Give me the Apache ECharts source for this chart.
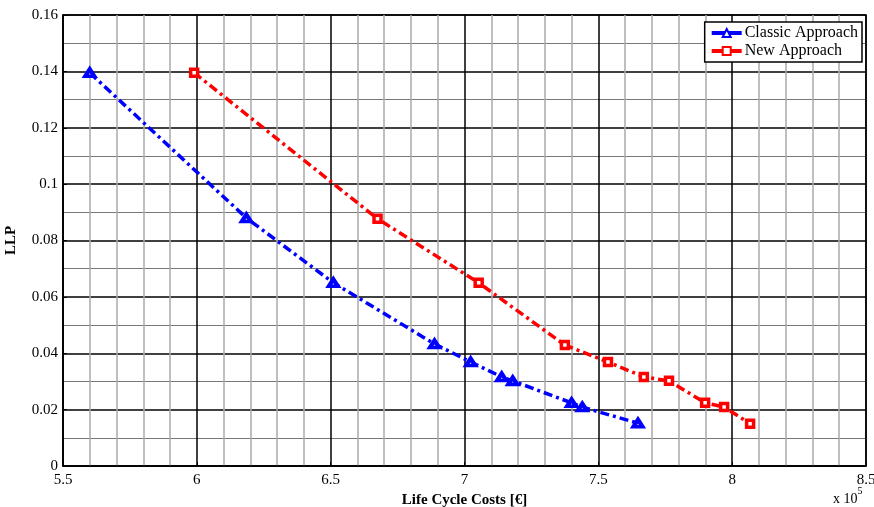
<!DOCTYPE html>
<html><head><meta charset="utf-8">
<script src="https://cdn.jsdelivr.net/npm/echarts@6/dist/echarts.min.js"></script>
<style>html,body{margin:0;padding:0;background:#fff}#c{width:874px;height:507px}</style>
</head><body><div id="c"></div>
<script>
const classicX = [5.60, 6.185, 6.51, 6.888, 7.023, 7.139, 7.18, 7.40, 7.44, 7.648];
const classicY = [0.1395, 0.088, 0.065, 0.0433, 0.0369, 0.0316, 0.0302, 0.0224, 0.0209, 0.0152];
const newX = [5.99, 6.675, 7.053, 7.375, 7.536, 7.67, 7.764, 7.899, 7.97, 8.067];
const newY = [0.1395, 0.0877, 0.065, 0.0429, 0.0369, 0.0316, 0.0302, 0.0224, 0.0209, 0.015];
const seriesNames = ['Classic Approach', 'New Approach'];
const FONT = '"Liberation Serif", "Times New Roman", serif';

const chart = echarts.init(document.getElementById('c'));
const pair = (xs, ys) => xs.map((x, i) => [x, ys[i]]);
chart.setOption({
  animation: false,
  grid: {left: 63, right: 8, top: 15, bottom: 41, show: true, borderColor: '#000', borderWidth: 1.5, backgroundColor: '#fff', outerBoundsMode: 'none', containLabel: false},
  legend: {
    right: 12, top: 22, orient: 'vertical', itemGap: 2,
    backgroundColor: '#fff', borderColor: '#000', borderWidth: 1.5, borderRadius: 0,
    padding: [3, 4, 3, 5], itemWidth: 30, itemHeight: 10,
    lineStyle: {type: 'solid', width: 4},
    textStyle: {fontFamily: FONT, fontSize: 16, color: '#000', padding: [0, 0, 0, -2]},
    data: seriesNames
  },
  xAxis: {
    type: 'value', min: 5.5, max: 8.5, interval: 0.5,
    name: 'Life Cycle Costs [€]', nameLocation: 'middle', nameGap: 27,
    nameTextStyle: {fontFamily: FONT, fontSize: 15, fontWeight: 'bold', color: '#000'},
    axisLine: {show: true, lineStyle: {color: '#000', width: 1.5}},
    axisTick: {show: true, inside: true, length: 4, lineStyle: {color: '#000'}},
    axisLabel: {fontFamily: FONT, fontSize: 15, color: '#000', margin: 7},
    splitLine: {show: true, lineStyle: {color: '#000', width: 1.5}},
    minorTick: {show: false, splitNumber: 5},
    minorSplitLine: {show: true, lineStyle: {color: '#aaa', width: 1.5}}
  },
  yAxis: {
    type: 'value', min: 0, max: 0.16, interval: 0.02,
    name: 'LLP', nameLocation: 'middle', nameGap: 44,
    nameTextStyle: {fontFamily: FONT, fontSize: 15, fontWeight: 'bold', color: '#000'},
    axisLine: {show: true, lineStyle: {color: '#000', width: 1.5}},
    axisTick: {show: true, inside: true, length: 4, lineStyle: {color: '#000'}},
    axisLabel: {fontFamily: FONT, fontSize: 15, color: '#000', margin: 5},
    splitLine: {show: true, lineStyle: {color: '#000', width: 1.5}},
    minorTick: {show: false, splitNumber: 2},
    minorSplitLine: {show: true, lineStyle: {color: '#777', width: 1}}
  },
  graphic: [{
    type: 'text', left: 833, top: 486,
    style: {
      text: '{a|x 10}{b|5}', fill: '#000',
      rich: {a: {fontFamily: FONT, fontSize: 14, padding: [6, 0, 0, 0]}, b: {fontFamily: FONT, fontSize: 10, verticalAlign: 'top'}}
    }
  }],
  series: [{
    name: seriesNames[0], type: 'line', data: pair(classicX, classicY),
    symbol: 'triangle', symbolSize: [9, 7],
    lineStyle: {color: '#0000ff', width: 3.5, type: [9, 4, 3, 4]},
    itemStyle: {color: '#ffffff', borderColor: '#0000ff', borderWidth: 4}
  }, {
    name: seriesNames[1], type: 'line', data: pair(newX, newY),
    symbol: 'rect', symbolSize: 7,
    lineStyle: {color: '#ff0000', width: 3.5, type: [9, 4, 3, 4]},
    itemStyle: {color: '#ffffff', borderColor: '#ff0000', borderWidth: 3.5}
  }]
});
</script></body></html>
